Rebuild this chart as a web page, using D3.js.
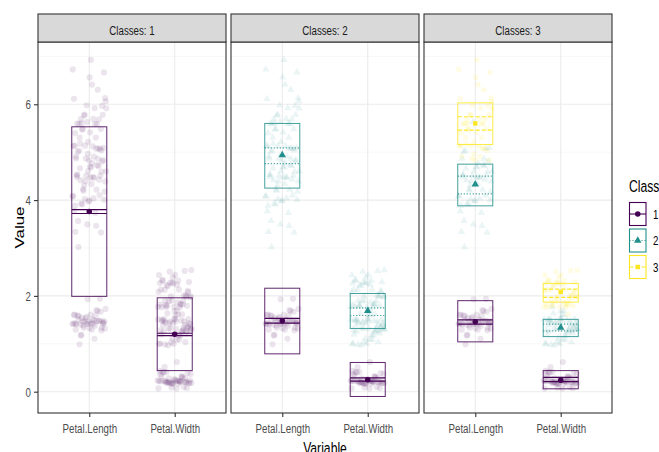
<!DOCTYPE html>
<html>
<head>
<meta charset="utf-8">
<script src="https://cdn.jsdelivr.net/npm/d3@7"></script>
<style>
  body { margin: 0; background: #fff; }
  svg text { font-family: "Liberation Sans", Arial, sans-serif; }
</style>
</head>
<body>
<div id="chart"></div>
<script>
const panelTitles = ["Classes: 1", "Classes: 2", "Classes: 3"];
const variables = ["Petal.Length", "Petal.Width"];
const classNames = ["1", "2", "3"];
const classColors = ["#440154", "#21908C", "#FDE725"];
const yTicks = [0, 2, 4, 6];

// iris petals, 150 flowers
const petalLength = [
    1.4, 1.4, 1.3, 1.5, 1.4, 1.7, 1.4, 1.5, 1.4, 1.5, 1.5, 1.6, 1.4, 1.1, 1.2, 1.5, 1.3, 1.4, 1.7, 1.5,
    1.7, 1.5, 1.0, 1.7, 1.9, 1.6, 1.6, 1.5, 1.4, 1.6, 1.6, 1.5, 1.5, 1.4, 1.5, 1.2, 1.3, 1.4, 1.3, 1.5,
    1.3, 1.3, 1.3, 1.6, 1.9, 1.4, 1.6, 1.4, 1.5, 1.4,
    4.7, 4.5, 4.9, 4.0, 4.6, 4.5, 4.7, 3.3, 4.6, 3.9, 3.5, 4.2, 4.0, 4.7, 3.6, 4.4, 4.5, 4.1, 4.5, 3.9,
    4.8, 4.0, 4.9, 4.7, 4.3, 4.4, 4.8, 5.0, 4.5, 3.5, 3.8, 3.7, 3.9, 5.1, 4.5, 4.5, 4.7, 4.4, 4.1, 4.0,
    4.4, 4.6, 4.0, 3.3, 4.2, 4.2, 4.2, 4.3, 3.0, 4.1,
    6.0, 5.1, 5.9, 5.6, 5.8, 6.6, 4.5, 6.3, 5.8, 6.1, 5.1, 5.3, 5.5, 5.0, 5.1, 5.3, 5.5, 6.7, 6.9, 5.0,
    5.7, 4.9, 6.7, 4.9, 5.7, 6.0, 4.8, 4.9, 5.6, 5.8, 6.1, 6.4, 5.6, 5.1, 5.6, 6.1, 5.6, 5.5, 4.8, 5.4,
    5.6, 5.1, 5.1, 5.9, 5.7, 5.2, 5.0, 5.2, 5.4, 5.1
];
const petalWidth = [
    0.2, 0.2, 0.2, 0.2, 0.2, 0.4, 0.3, 0.2, 0.2, 0.1, 0.2, 0.2, 0.1, 0.1, 0.2, 0.4, 0.4, 0.3, 0.3, 0.3,
    0.2, 0.4, 0.2, 0.5, 0.2, 0.2, 0.4, 0.2, 0.2, 0.2, 0.2, 0.4, 0.1, 0.2, 0.2, 0.2, 0.2, 0.1, 0.2, 0.2,
    0.3, 0.3, 0.2, 0.6, 0.4, 0.3, 0.2, 0.2, 0.2, 0.2,
    1.4, 1.5, 1.5, 1.3, 1.5, 1.3, 1.6, 1.0, 1.3, 1.4, 1.0, 1.5, 1.0, 1.4, 1.3, 1.4, 1.5, 1.0, 1.5, 1.1,
    1.8, 1.3, 1.5, 1.2, 1.3, 1.4, 1.4, 1.7, 1.5, 1.0, 1.1, 1.0, 1.2, 1.6, 1.5, 1.6, 1.5, 1.3, 1.3, 1.3,
    1.2, 1.4, 1.2, 1.0, 1.3, 1.2, 1.3, 1.3, 1.1, 1.3,
    2.5, 1.9, 2.1, 1.8, 2.2, 2.1, 1.7, 1.8, 1.8, 2.5, 2.0, 1.9, 2.1, 2.0, 2.4, 2.3, 1.8, 2.2, 2.3, 1.5,
    2.3, 2.0, 2.0, 1.8, 2.1, 1.8, 1.8, 1.8, 2.1, 1.6, 1.9, 2.0, 2.2, 1.5, 1.4, 2.3, 2.4, 1.8, 1.8, 2.1,
    2.4, 2.3, 1.9, 2.3, 2.5, 2.3, 1.9, 2.0, 2.3, 1.8
];

// class of every flower in the 1-, 2- and 3-class solution
const classes1 = ("1111111111 1111111111 1111111111 1111111111 1111111111 " +
                  "1111111111 1111111111 1111111111 1111111111 1111111111 " +
                  "1111111111 1111111111 1111111111 1111111111 1111111111").replace(/ /g, "");
const classes2 = ("1111111111 1111111111 1111111111 1111111111 1111111111 " +
                  "2222222222 2222222222 2222222222 2222222222 2222222222 " +
                  "2222222222 2222222222 2222222222 2222222222 2222222222").replace(/ /g, "");
const classes3 = ("1111111111 1111111111 1111111111 1111111111 1111111111 " +
                  "2222222222 2222222222 2222222222 2222222222 2222222222 " +
                  "3333332333 3333333332 3333333333 3332233333 3333333333").replace(/ /g, "");

// profile bars: mean, mean +/- sd box, confidence lines
const barModel  = [1, 1, 2, 2, 2, 2, 3, 3, 3, 3, 3, 3];
const barClass  = [1, 1, 1, 1, 2, 2, 1, 1, 2, 2, 3, 3];
const barVar    = ["Petal.Length", "Petal.Width", "Petal.Length", "Petal.Width", "Petal.Length", "Petal.Width",
                   "Petal.Length", "Petal.Width", "Petal.Length", "Petal.Width", "Petal.Length", "Petal.Width"];
const barMean   = [3.76, 1.20, 1.48, 0.25, 4.94, 1.69, 1.46, 0.24, 4.33, 1.34, 5.60, 2.08];
const barSdLow  = [1.99, 0.44, 0.79, -0.10, 4.25, 1.32, 1.04, 0.06, 3.88, 1.15, 5.16, 1.87];
const barSdHigh = [5.53, 1.96, 2.16, 0.61, 5.60, 2.05, 1.90, 0.44, 4.75, 1.51, 6.03, 2.26];
const barCiLow  = [3.72, 1.17, 1.43, 0.22, 4.76, 1.59, 1.41, 0.21, 4.13, 1.27, 5.46, 1.97];
const barCiHigh = [3.80, 1.22, 1.53, 0.29, 5.09, 1.75, 1.50, 0.30, 4.50, 1.41, 5.74, 2.14];

const width = 659;
const height = 452;
const panelLeft = 38;
const panelW = 188;
const panelGap = 5;
const stripTop = 14;
const stripBottom = 42;
const panelBottom = 413;
const squeeze = 0.72; // text in the picture is narrowed

const dashes = { 1: null, 2: "1,2", 3: "4,2" };
const symbols = { 1: d3.symbolCircle, 2: d3.symbolTriangle, 3: d3.symbolSquare };
const pointAlpha = { 1: 0.1, 2: 0.085, 3: 0.13 };
const classSets = [classes1, classes2, classes3];

const svg = d3.select("#chart").append("svg")
    .attr("width", width)
    .attr("height", height);

const y = d3.scaleLinear()
    .domain([-0.445, 7.294])
    .range([panelBottom, stripBottom + 0.3]);

const x = d3.scalePoint()
    .domain(variables)
    .range([0, panelW])
    .padding(0.6);
const step = x.step();

// spread points sideways like a jitter, without random numbers
const jitterX = (i, v) => (((i + 1) * 0.6180339 + v * 0.37) % 1 - 0.5) * 0.4 * step;
const jitterY = (i, v) => (((i + 1) * 0.7548776 + v * 0.53) % 1 - 0.5) * 0.08;

function squeezeText(sel, anchorX) {
    sel.attr("transform", `translate(${anchorX},0) scale(${squeeze},1)`).attr("x", 0);
}

panelTitles.forEach((title, p) => {
    const left = panelLeft + p * (panelW + panelGap);
    const g = svg.append("g").attr("transform", `translate(${left},0)`);
    const model = p + 1;
    const cls = classSets[p];

    // grid
    g.append("rect").attr("x", 0).attr("y", stripBottom)
        .attr("width", panelW).attr("height", panelBottom - stripBottom).attr("fill", "#fff");
    g.selectAll(".minor").data([1, 3, 5, 7]).enter().append("line")
        .attr("x1", 0).attr("x2", panelW)
        .attr("y1", d => y(d)).attr("y2", d => y(d))
        .attr("stroke", "#F2F2F2").attr("stroke-width", 0.6);
    g.selectAll(".major").data(yTicks).enter().append("line")
        .attr("x1", 0).attr("x2", panelW)
        .attr("y1", d => y(d)).attr("y2", d => y(d))
        .attr("stroke", "#EBEBEB").attr("stroke-width", 1.1);
    g.selectAll(".vmajor").data(variables).enter().append("line")
        .attr("x1", d => x(d)).attr("x2", d => x(d))
        .attr("y1", stripBottom).attr("y2", panelBottom)
        .attr("stroke", "#EBEBEB").attr("stroke-width", 1.1);

    // jittered observations
    const pts = [];
    variables.forEach((v, vi) => {
        const vals = vi === 0 ? petalLength : petalWidth;
        vals.forEach((val, i) => pts.push({ v, vi, i, val, c: +cls[i] }));
    });
    g.selectAll(".pt").data(pts).enter().append("path")
        .attr("d", d => d3.symbol().type(symbols[d.c]).size(d.c === 1 ? 30 : 24)())
        .attr("transform", d => `translate(${x(d.v) + jitterX(d.i, d.vi)},${y(d.val + jitterY(d.i, d.vi))})`)
        .attr("fill", d => classColors[d.c - 1])
        .attr("fill-opacity", d => pointAlpha[d.c]);

    // profile bars
    const bars = barModel.map((m, k) => ({
        m, c: barClass[k], v: barVar[k], mean: barMean[k],
        lo: barSdLow[k], hi: barSdHigh[k], ciLo: barCiLow[k], ciHi: barCiHigh[k]
    })).filter(b => b.m === model);
    const bw = 0.41 * step;

    const bg = g.selectAll(".bar").data(bars).enter().append("g");
    bg.append("rect")
        .attr("x", d => x(d.v) - bw / 2).attr("width", bw)
        .attr("y", d => y(d.hi)).attr("height", d => y(d.lo) - y(d.hi))
        .attr("fill", "none")
        .attr("stroke", d => classColors[d.c - 1])
        .attr("stroke-opacity", 0.85)
        .attr("stroke-width", 1);
    ["ciLo", "ciHi"].forEach(key => {
        bg.append("line")
            .attr("x1", d => x(d.v) - bw / 2).attr("x2", d => x(d.v) + bw / 2)
            .attr("y1", d => y(d[key])).attr("y2", d => y(d[key]))
            .attr("stroke", d => classColors[d.c - 1])
            .attr("stroke-width", 1.2)
            .attr("stroke-dasharray", d => dashes[d.c]);
    });
    bg.append("path")
        .attr("d", d => d3.symbol().type(symbols[d.c]).size(d.c === 3 ? 20 : 24)())
        .attr("transform", d => `translate(${x(d.v)},${y(d.mean)})`)
        .attr("fill", d => classColors[d.c - 1]);

    // border
    g.append("rect").attr("x", 0).attr("y", stripBottom)
        .attr("width", panelW).attr("height", panelBottom - stripBottom)
        .attr("fill", "none").attr("stroke", "#333333").attr("stroke-width", 1.1);

    // strip
    g.append("rect").attr("x", 0).attr("y", stripTop)
        .attr("width", panelW).attr("height", stripBottom - stripTop)
        .attr("fill", "#D9D9D9").attr("stroke", "#333333").attr("stroke-width", 1.1);
    g.append("text")
        .attr("y", 35)
        .attr("text-anchor", "middle")
        .style("font-size", "13.5px")
        .attr("fill", "#1A1A1A")
        .text(title)
        .call(squeezeText, panelW / 2);

    // x axis
    const ax = g.append("g").attr("transform", `translate(0,${panelBottom})`)
        .call(d3.axisBottom(x).tickSize(4).tickPadding(6));
    ax.select(".domain").remove();
    ax.selectAll("line").attr("stroke", "#333333").attr("stroke-width", 1.1);
    ax.selectAll("text")
        .attr("fill", "#4D4D4D")
        .style("font-size", "13.5px")
        .style("font-family", "'Liberation Sans', Arial, sans-serif")
        .attr("transform", `scale(${squeeze},1)`);
});

// y axis
const ay = svg.append("g").attr("transform", `translate(${panelLeft},0)`)
    .call(d3.axisLeft(y).tickValues(yTicks).tickSize(4).tickPadding(3));
ay.select(".domain").remove();
ay.selectAll("line").attr("stroke", "#333333").attr("stroke-width", 1.1);
ay.selectAll("text")
    .attr("fill", "#4D4D4D")
    .style("font-size", "13.5px")
    .style("font-family", "'Liberation Sans', Arial, sans-serif")
    .attr("x", -7 / squeeze)
    .attr("transform", `scale(${squeeze},1)`);

// axis titles
svg.append("text")
    .attr("transform", `translate(${(panelLeft + panelLeft + 3 * panelW + 2 * panelGap) / 2},454) scale(${squeeze},1)`)
    .attr("text-anchor", "middle")
    .style("font-size", "16.9px")
    .text("Variable");
svg.append("text")
    .attr("transform", `translate(24,${(stripBottom + panelBottom) / 2}) scale(${squeeze},1) rotate(-90)`)
    .attr("text-anchor", "middle")
    .style("font-size", "16.9px")
    .text("Value");

// legend
const legend = svg.append("g").attr("transform", "translate(629,0)");
legend.append("text")
    .attr("y", 192.5)
    .style("font-size", "16.9px")
    .attr("transform", `scale(${squeeze},1)`)
    .text("Class");
const keyW = 17.5, keyH = 24, keyStep = 26.5, keyTop = 202;
const keys = legend.selectAll(".key").data(classNames).enter().append("g")
    .attr("transform", (d, i) => `translate(0,${keyTop + i * keyStep})`);
keys.append("rect")
    .attr("x", 0.5).attr("y", 0.5)
    .attr("width", keyW - 1).attr("height", keyH - 1)
    .attr("fill", "#fff")
    .attr("stroke", (d, i) => classColors[i])
    .attr("stroke-width", 1.1);
keys.append("line")
    .attr("x1", 0.5).attr("x2", keyW - 0.5)
    .attr("y1", keyH / 2).attr("y2", keyH / 2)
    .attr("stroke", (d, i) => classColors[i])
    .attr("stroke-width", 1.1)
    .attr("stroke-dasharray", (d, i) => dashes[i + 1]);
keys.append("path")
    .attr("d", (d, i) => d3.symbol().type(symbols[i + 1]).size(i === 2 ? 20 : 24)())
    .attr("transform", `translate(${keyW / 2},${keyH / 2})`)
    .attr("fill", (d, i) => classColors[i]);
keys.append("text")
    .attr("y", keyH / 2 + 4.8)
    .style("font-size", "13.5px")
    .attr("transform", `translate(24,0) scale(${squeeze},1)`)
    .text(d => d);
</script>
</body>
</html>
